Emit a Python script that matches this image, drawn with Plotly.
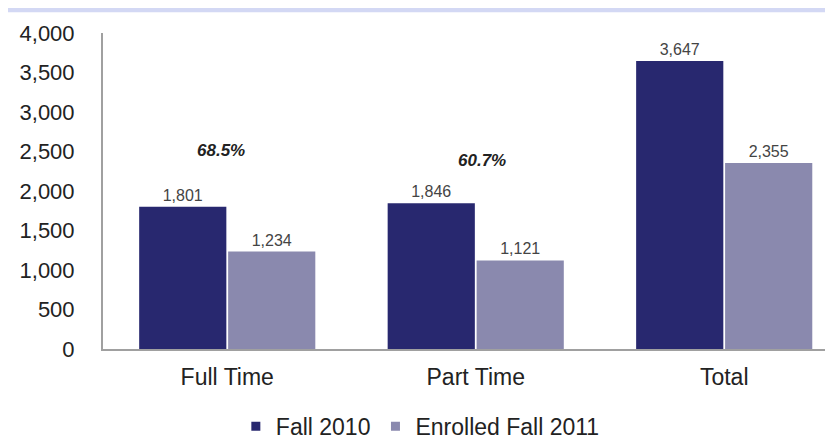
"""Fall 2010 cohort vs. students enrolled again in Fall 2011."""

import plotly.graph_objects as go

categories = ["Full Time", "Part Time", "Total"]
fall_2010 = [1801, 1846, 3647]
enrolled_fall_2011 = [1234, 1121, 2355]
y_ticks = [0, 500, 1000, 1500, 2000, 2500, 3000, 3500, 4000]

DARK = "#28286f"
LIGHT = "#8a89ae"
FONT = "Liberation Sans, Arial, sans-serif"

retention = [e / f * 100 for e, f in zip(enrolled_fall_2011, fall_2010)]

fig = go.Figure()

fig.add_trace(
    go.Bar(
        x=categories,
        y=fall_2010,
        name="Fall 2010",
        marker={"color": DARK, "line": {"width": 0}},
        texttemplate="%{y:,}",
        textposition="outside",
        textfont={"size": 16, "color": "#444444"},
        cliponaxis=False,
        showlegend=False,
    )
)
fig.add_trace(
    go.Bar(
        x=categories,
        y=enrolled_fall_2011,
        name="Enrolled Fall 2011",
        marker={"color": LIGHT, "line": {"width": 0}},
        texttemplate="%{y:,}",
        textposition="outside",
        textfont={"size": 16, "color": "#444444"},
        cliponaxis=False,
        showlegend=False,
    )
)

# legend-only entries with small square markers
for name, color in [("Fall 2010", DARK), ("Enrolled Fall 2011", LIGHT)]:
    fig.add_trace(
        go.Scatter(
            x=[None],
            y=[None],
            mode="markers",
            name=name,
            marker={"symbol": "square", "size": 9, "color": color},
        )
    )

# retention percentages above each group
pct_pos = [(2514, -6), (2390, 6), (4012, 16)]
for cat, pct, (ypos, shift) in zip(categories, retention, pct_pos):
    fig.add_annotation(
        x=cat,
        y=ypos,
        xshift=shift,
        text=f"<b><i>{pct:.1f}%</i></b>",
        showarrow=False,
        font={"size": 17, "color": "#222222", "family": FONT},
    )

fig.update_layout(
    width=833,
    height=440,
    barmode="group",
    bargap=0.284,
    bargroupgap=0.02,
    paper_bgcolor="white",
    plot_bgcolor="white",
    margin={"l": 95, "r": 0, "t": 25, "b": 92},
    font={"family": FONT, "color": "#222222", "size": 22},
    legend={
        "orientation": "h",
        "x": 0.43,
        "xanchor": "center",
        "y": -0.245,
        "yanchor": "middle",
        "font": {"size": 23, "color": "#222222"},
        "itemwidth": 30,
    },
    shapes=[
        {
            "type": "rect",
            "xref": "paper",
            "yref": "paper",
            "x0": -0.2,
            "x1": 1.0,
            "y0": 1.066,
            "y1": 1.08,
            "line": {"width": 0},
            "fillcolor": "#d3d8f4",
        }
    ],
)

fig.update_xaxes(
    range=[-0.5, 2.47],
    showline=True,
    linecolor="#a0a0a0",
    linewidth=2,
    ticks="",
    showgrid=False,
    tickfont={"size": 23},
    tickangle=0,
    ticklabelstandoff=6,
)
fig.update_yaxes(
    range=[0, 4000],
    tickvals=y_ticks,
    tickformat=",",
    showline=True,
    linecolor="#a0a0a0",
    linewidth=2,
    ticks="",
    showgrid=False,
    zeroline=False,
    tickfont={"size": 22},
    ticklabelstandoff=22,
)

fig.write_html("out.html")
